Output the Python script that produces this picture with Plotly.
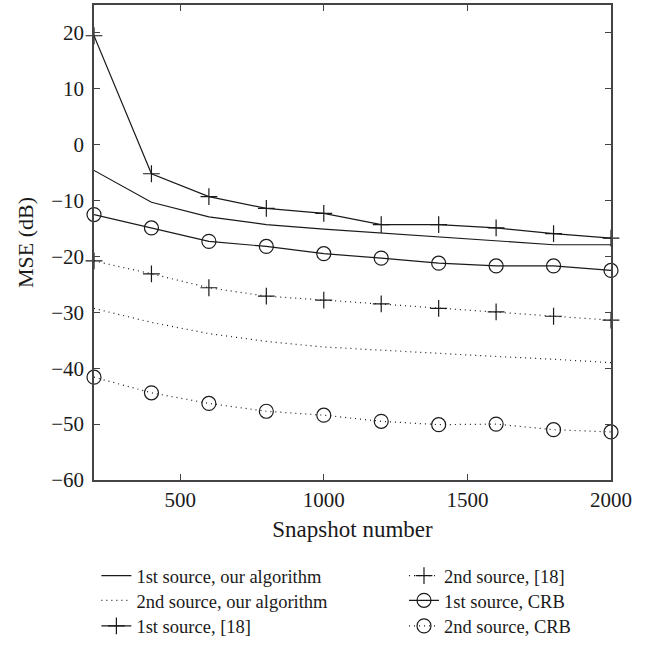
import plotly.graph_objects as go

snapshots = [200, 400, 600, 800, 1000, 1200, 1400, 1600, 1800, 2000]

src1_ours = [-4.6, -10.3, -12.9, -14.3, -15.1, -15.8, -16.4, -17.1, -17.9, -17.9]
src2_ours = [-29.3, -31.8, -33.8, -35.2, -36.2, -36.8, -37.3, -37.9, -38.4, -39.0]
src1_ref18 = [19.5, -5.2, -9.3, -11.4, -12.3, -14.3, -14.3, -14.9, -15.9, -16.7]
src2_ref18 = [-20.8, -23.1, -25.6, -27.1, -27.8, -28.5, -29.3, -29.9, -30.7, -31.4]
src1_crb = [-12.5, -14.9, -17.3, -18.2, -19.5, -20.3, -21.2, -21.7, -21.7, -22.5]
src2_crb = [-41.6, -44.4, -46.3, -47.7, -48.4, -49.5, -50.1, -50.0, -51.0, -51.4]

names = [
    "1st source, our algorithm",
    "2nd source, our algorithm",
    "1st source, [18]",
    "2nd source, [18]",
    "1st source, CRB",
    "2nd source, CRB",
]

x_ticks = [500, 1000, 1500, 2000]
y_ticks = [-60, -50, -40, -30, -20, -10, 0, 10, 20]

INK = "#1a1a1a"
DOT = "1px,4px"
FONT = "Liberation Serif"

# legend slots: two columns of three rows
legend_ids = ["legend", "legend2", "legend3", "legend4", "legend5", "legend6"]
col_x = [0.0046, 0.5996]
row_y = [-(564.5 - 486) / 483, -(589.5 - 486) / 483, -(615.5 - 486) / 483]

fig = go.Figure()

def add(y, name, dash, symbol, legend):
    mode = "lines" if symbol is None else "lines+markers"
    marker = dict()
    if symbol is not None:
        if symbol == "cross-thin":
            marker = dict(symbol=symbol, size=12, color=INK, line=dict(width=1.2, color=INK))
        else:
            marker = dict(symbol=symbol, size=14, color=INK, line=dict(width=1.2, color=INK))
    fig.add_trace(go.Scatter(
        x=snapshots, y=y, name=name, mode=mode,
        line=dict(color=INK, width=1.2, dash=dash),
        marker=marker, cliponaxis=False, legend=legend,
    ))

series = [src1_ours, src2_ours, src1_ref18, src2_ref18, src1_crb, src2_crb]
dashes = ["solid", DOT, "solid", DOT, "solid", DOT]
symbols = [None, None, "cross-thin", "cross-thin", "circle-open", "circle-open"]
for i in range(6):
    add(series[i], names[i], dashes[i], symbols[i], legend_ids[i])

axis_common = dict(
    showline=True, linecolor="#444444", linewidth=1.5, mirror="ticks",
    ticks="inside", ticklen=6, tickwidth=1, tickcolor="#444444",
    showgrid=False, zeroline=False,
    tickfont=dict(family=FONT, size=21, color=INK),
)

layout_legends = {}
for i, lid in enumerate(legend_ids):
    col, row = divmod(i, 3)
    layout_legends[lid] = dict(
        x=col_x[col], y=row_y[row], xanchor="left", yanchor="top",
        font=dict(family=FONT, size=18.5, color=INK),
        bgcolor="rgba(0,0,0,0)", borderwidth=0,
    )

fig.update_layout(
    width=645, height=648,
    margin=dict(l=94, r=34, t=3, b=162),
    paper_bgcolor="white", plot_bgcolor="white",
    font=dict(family=FONT, size=18, color=INK),
    xaxis=dict(range=[200, 2000], tickvals=x_ticks, ticklabelstandoff=0,
               title=dict(text="Snapshot number", font=dict(family=FONT, size=23, color=INK), standoff=10),
               **axis_common),
    yaxis=dict(range=[-60, 25], tickvals=y_ticks, ticklabelstandoff=4,
               ticktext=[("\u2212" + str(-v)) if v < 0 else str(v) for v in y_ticks],
               title=dict(text="MSE (dB)", font=dict(family=FONT, size=22, color=INK), standoff=12),
               **axis_common),
    showlegend=True,
    **layout_legends,
)

fig.write_html("out.html")
